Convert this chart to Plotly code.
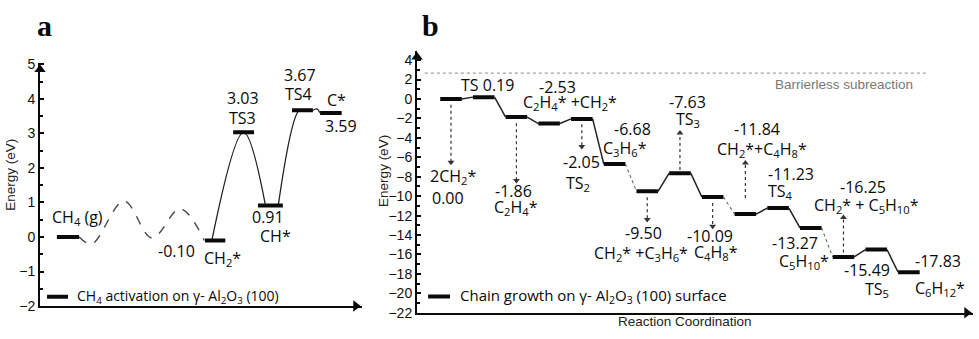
import plotly.graph_objects as go

# ---------------- panel a: CH4 activation on gamma-Al2O3 (100) ----------------
A_STATES = ["CH4 (g)", "CH2*", "TS3", "CH*", "TS4", "C*"]
A_POS = [0.0, 4.5, 5.37, 6.19, 7.17, 8.04]          # reaction-coordinate position
A_ENERGY = [0.00, -0.10, 3.03, 0.91, 3.67, 3.59]    # eV
A_HALF = [0.34, 0.31, 0.32, 0.38, 0.32, 0.33]

# schematic (dashed) path from CH4(g) to CH2*
A_DASH_X = [0.34, 0.73, 1.71, 2.57, 3.43, 4.17]
A_DASH_E = [0.00, -0.20, 1.04, -0.03, 0.82, -0.10]

# ---------------- panel b: chain growth ----------------
B_STATES = ["2CH2*", "TS", "C2H4*", "C2H4*+CH2*", "TS2", "C3H6*", "CH2*+C3H6*",
            "TS3", "C4H8*", "CH2*+C4H8*", "TS4", "C5H10*", "CH2*+C5H10*", "TS5", "C6H12*"]
B_ENERGY = [0.00, 0.19, -1.86, -2.53, -2.05, -6.68, -9.50, -7.63,
            -10.09, -11.84, -11.23, -13.27, -16.25, -15.49, -17.83]
B_POS = list(range(len(B_ENERGY)))
B_HALF = 0.33
BARRIERLESS_STEPS = [5, 8, 11]      # i -> i+1 drawn as barrierless (dotted)
BARRIERLESS_LEVEL = 2.66

A_YTICKS = [-2, -1, 0, 1, 2, 3, 4, 5]
B_YTICKS = list(range(-22, 5, 2))

INK = "#0a0a0a"
TICK_FONT = dict(family="Liberation Sans", size=14, color="#111111")

fig = go.Figure()

# ---- panel a traces ----
fig.add_trace(go.Scatter(x=A_DASH_X, y=A_DASH_E, mode="lines", xaxis="x", yaxis="y",
                         line=dict(color="#444444", width=1.4, dash="dash", shape="spline"),
                         hoverinfo="skip"))
# CH2* -> TS3 -> CH*
fig.add_trace(go.Scatter(x=[A_POS[1] - 0.1, A_POS[2], A_POS[3] - 0.15],
                         y=[A_ENERGY[1], A_ENERGY[2], A_ENERGY[3]],
                         mode="lines", xaxis="x", yaxis="y",
                         line=dict(color="#222222", width=1.3, shape="spline", smoothing=1.0),
                         hoverinfo="skip"))
# CH* -> TS4
fig.add_trace(go.Scatter(x=[A_POS[3] + 0.24, A_POS[4] - 0.1, A_POS[4] + 0.1],
                         y=[A_ENERGY[3], A_ENERGY[4], A_ENERGY[4]],
                         mode="lines", xaxis="x", yaxis="y",
                         line=dict(color="#222222", width=1.3, shape="spline", smoothing=1.0),
                         hoverinfo="skip"))
# TS4 -> C*
fig.add_trace(go.Scatter(x=[A_POS[4] + A_HALF[4], A_POS[4] + A_HALF[4] + 0.12, A_POS[5] - A_HALF[5]],
                         y=[A_ENERGY[4], A_ENERGY[4] + 0.04, A_ENERGY[5]],
                         mode="lines", xaxis="x", yaxis="y",
                         line=dict(color="#222222", width=1.2, shape="spline"),
                         hoverinfo="skip"))
lx, ly = [], []
for p, e, h in zip(A_POS, A_ENERGY, A_HALF):
    lx += [p - h, p + h, None]
    ly += [e, e, None]
fig.add_trace(go.Scatter(x=lx, y=ly, mode="lines", xaxis="x", yaxis="y",
                         line=dict(color=INK, width=4), hoverinfo="skip"))

# ---- panel b traces ----
fig.add_trace(go.Scatter(x=[-0.8, 14.56], y=[BARRIERLESS_LEVEL] * 2, mode="lines",
                         xaxis="x2", yaxis="y2",
                         line=dict(color="#a0a0a0", width=1.2, dash="dot"), hoverinfo="skip"))
sx, sy, dx, dy = [], [], [], []
for i in range(len(B_ENERGY) - 1):
    seg_x = [B_POS[i] + B_HALF, B_POS[i + 1] - B_HALF, None]
    seg_y = [B_ENERGY[i], B_ENERGY[i + 1], None]
    if i in BARRIERLESS_STEPS:
        dx += seg_x
        dy += seg_y
    else:
        sx += seg_x
        sy += seg_y
fig.add_trace(go.Scatter(x=sx, y=sy, mode="lines", xaxis="x2", yaxis="y2",
                         line=dict(color="#222222", width=1.5), hoverinfo="skip"))
fig.add_trace(go.Scatter(x=dx, y=dy, mode="lines", xaxis="x2", yaxis="y2",
                         line=dict(color="#666666", width=1.1, dash="dot"), hoverinfo="skip"))
bx, by = [], []
for p, e in zip(B_POS, B_ENERGY):
    bx += [p - B_HALF, p + B_HALF, None]
    by += [e, e, None]
fig.add_trace(go.Scatter(x=bx, y=by, mode="lines", xaxis="x2", yaxis="y2",
                         line=dict(color=INK, width=4), hoverinfo="skip"))

# dotted pointer arrows: (state index, start energy, end energy)
B_POINTERS = [(0, -0.6, -6.5), (2, -2.5, -8.4), (4, -2.6, -4.9), (6, -10.1, -12.4),
              (7, -7.3, -3.5), (8, -10.7, -13.1), (9, -10.2, -6.6), (12, -15.8, -12.2)]
for idx, y0, y1 in B_POINTERS:
    fig.add_trace(go.Scatter(x=[B_POS[idx], B_POS[idx]], y=[y0, y1], mode="lines",
                             xaxis="x2", yaxis="y2",
                             line=dict(color="#333333", width=1.2, dash="dot"),
                             hoverinfo="skip"))
    fig.add_trace(go.Scatter(x=[B_POS[idx]], y=[y1], mode="markers",
                             xaxis="x2", yaxis="y2",
                             marker=dict(symbol="triangle-down" if y1 < y0 else "triangle-up",
                                         size=6, color="#333333"),
                             hoverinfo="skip"))

# axis arrow heads
fig.add_trace(go.Scatter(x=[-0.856], y=[4.85], mode="markers", xaxis="x", yaxis="y",
                         marker=dict(symbol="triangle-up", size=10, color=INK),
                         cliponaxis=False, hoverinfo="skip"))
fig.add_trace(go.Scatter(x=[8.80], y=[-2], mode="markers", xaxis="x", yaxis="y",
                         marker=dict(symbol="triangle-right", size=10, color=INK),
                         cliponaxis=False, hoverinfo="skip"))
fig.add_trace(go.Scatter(x=[-1.04], y=[4.33], mode="markers", xaxis="x2", yaxis="y2",
                         marker=dict(symbol="triangle-up", size=10, color=INK),
                         cliponaxis=False, hoverinfo="skip"))
fig.add_trace(go.Scatter(x=[15.77], y=[-22], mode="markers", xaxis="x2", yaxis="y2",
                         marker=dict(symbol="triangle-right", size=10, color=INK),
                         cliponaxis=False, hoverinfo="skip"))

ann = []


def lab(text, x, y, ref="", size=16, color=INK, xanchor="center", family="Open Sans"):
    ann.append(dict(text=text, x=x, y=y, xref="x" + ref, yref="y" + ref, showarrow=False,
                    xanchor=xanchor, yanchor="middle",
                    font=dict(family=family, size=size, color=color)))


def fmt(e):
    return f"{e:.2f}"


# panel a labels
lab("CH<sub>4</sub> (g)", 0.28, 0.55)
lab(fmt(A_ENERGY[1]), 3.33, -0.40)
lab("CH<sub>2</sub>*", 4.71, -0.62)
lab(fmt(A_ENERGY[2]), 5.35, 4.02)
lab("TS3", 5.35, 3.44)
lab(fmt(A_ENERGY[3]), 6.12, 0.58)
lab("CH*", 6.36, 0.02)
lab(fmt(A_ENERGY[4]), 7.08, 4.68)
lab("TS4", 7.05, 4.13)
lab("C*", 8.2, 3.97)
lab(fmt(A_ENERGY[5]), 8.35, 3.21)
lab("CH<sub>4</sub> activation on γ- Al<sub>2</sub>O<sub>3</sub> (100)", 0.21, -1.73,
    size=14, xanchor="left")

# panel b labels
lab("TS " + fmt(B_ENERGY[1]), 1.13, 1.45, "2")
lab(fmt(B_ENERGY[3]), 3.27, 1.25, "2")
lab("C<sub>2</sub>H<sub>4</sub>* +CH<sub>2</sub>*", 3.64, -0.35, "2")
lab(fmt(B_ENERGY[5]), 5.54, -3.06, "2")
lab("C<sub>3</sub>H<sub>6</sub>*", 5.32, -5.05, "2")
lab(fmt(B_ENERGY[4]), 4.0, -6.5, "2")
lab("TS<sub>2</sub>", 3.88, -8.7, "2")
lab("2CH<sub>2</sub>*", 0.05, -8.0, "2")
lab(fmt(B_ENERGY[0]), -0.09, -10.16, "2")
lab(fmt(B_ENERGY[2]), 1.9, -9.47, "2")
lab("C<sub>2</sub>H<sub>4</sub>*", 1.99, -11.2, "2")
lab(fmt(B_ENERGY[6]), 5.9, -13.8, "2")
lab("CH<sub>2</sub>* +C<sub>3</sub>H<sub>6</sub>*", 5.81, -15.95, "2")
lab(fmt(B_ENERGY[7]), 7.22, -0.3, "2")
lab("TS<sub>3</sub>", 7.25, -2.1, "2")
lab(fmt(B_ENERGY[9]), 9.36, -3.06, "2")
lab("CH<sub>2</sub>*+C<sub>4</sub>H<sub>8</sub>*", 9.51, -5.25, "2")
lab(fmt(B_ENERGY[10]), 10.4, -7.7, "2")
lab("TS<sub>4</sub>", 10.06, -9.5, "2")
lab(fmt(B_ENERGY[12]), 12.6, -9.08, "2")
lab("CH<sub>2</sub>* + C<sub>5</sub>H<sub>10</sub>*", 12.69, -11.0, "2")
lab(fmt(B_ENERGY[8]), 7.92, -14.1, "2")
lab("C<sub>4</sub>H<sub>8</sub>*", 8.1, -15.75, "2")
lab(fmt(B_ENERGY[11]), 10.52, -14.8, "2")
lab("C<sub>5</sub>H<sub>10</sub>*", 10.8, -16.7, "2")
lab(fmt(B_ENERGY[13]), 12.72, -17.56, "2")
lab("TS<sub>5</sub>", 13.03, -19.65, "2")
lab(fmt(B_ENERGY[14]), 14.89, -16.67, "2")
lab("C<sub>6</sub>H<sub>12</sub>*", 14.95, -19.55, "2")
lab("Barrierless subreaction", 12.02, 1.48, "2", size=13.5, color="#777777",
    family="Liberation Sans")
lab("Chain growth on γ- Al<sub>2</sub>O<sub>3</sub> (100) surface", 0.21, -20.32, "2",
    size=15, xanchor="left")

# panel letters and axis titles (paper coordinates)
for t, x in [("a", 44 / 979), ("b", 430 / 979)]:
    ann.append(dict(text="<b>" + t + "</b>", x=x, y=1 - 20 / 339, xref="paper", yref="paper",
                    xanchor="center", yanchor="middle", showarrow=False,
                    font=dict(family="Liberation Serif", size=30, color=INK)))
for x, y in [(11 / 979, 1 - 176 / 339), (384 / 979, 1 - 172 / 339)]:
    ann.append(dict(text="Energy (eV)", x=x, y=y, xref="paper", yref="paper", showarrow=False,
                    xanchor="center", yanchor="middle", textangle=-90,
                    font=dict(family="Liberation Sans", size=13.5, color="#222222")))
ann.append(dict(text="Reaction Coordination", x=685 / 979, y=1 - 329 / 339, xref="paper",
                yref="paper", xanchor="center", yanchor="middle", showarrow=False,
                font=dict(family="Liberation Sans", size=13.5, color="#222222")))

# legend bars
shapes = [
    dict(type="line", xref="x", yref="y", x0=-0.64, x1=0.0, y0=-1.73, y1=-1.73,
         line=dict(color=INK, width=4)),
    dict(type="line", xref="x2", yref="y2", x0=-0.70, x1=-0.03, y0=-20.32, y1=-20.32,
         line=dict(color=INK, width=4)),
]

axis_common = dict(showgrid=False, zeroline=False, showline=True, linecolor=INK, linewidth=2)

fig.update_layout(
    width=979, height=339, margin=dict(l=0, r=0, t=0, b=0),
    paper_bgcolor="white", plot_bgcolor="white", showlegend=False,
    annotations=ann, shapes=shapes,
    xaxis=dict(domain=[40 / 979, 362 / 979], range=[-0.856, 8.991], showticklabels=False,
               ticks="", anchor="y", **axis_common),
    yaxis=dict(domain=[26 / 339, 280 / 339], range=[-2, 5.05], tickvals=A_YTICKS,
               ticks="inside", ticklen=4, tickwidth=1.5, tickcolor=INK, tickfont=TICK_FONT,
               minor=dict(dtick=0.5, ticks="inside", ticklen=3, tickcolor=INK),
               anchor="x", **axis_common),
    xaxis2=dict(domain=[417 / 979, 973 / 979], range=[-1.04, 15.96], showticklabels=False,
                ticks="", anchor="y2", **axis_common),
    yaxis2=dict(domain=[19 / 339, 292 / 339], range=[-22, 4.93], tickvals=B_YTICKS,
                ticks="inside", ticklen=4, tickwidth=1.5, tickcolor=INK, tickfont=TICK_FONT,
                minor=dict(dtick=1, ticks="inside", ticklen=3, tickcolor=INK),
                anchor="x2", **axis_common),
)

fig.write_html("out.html")
